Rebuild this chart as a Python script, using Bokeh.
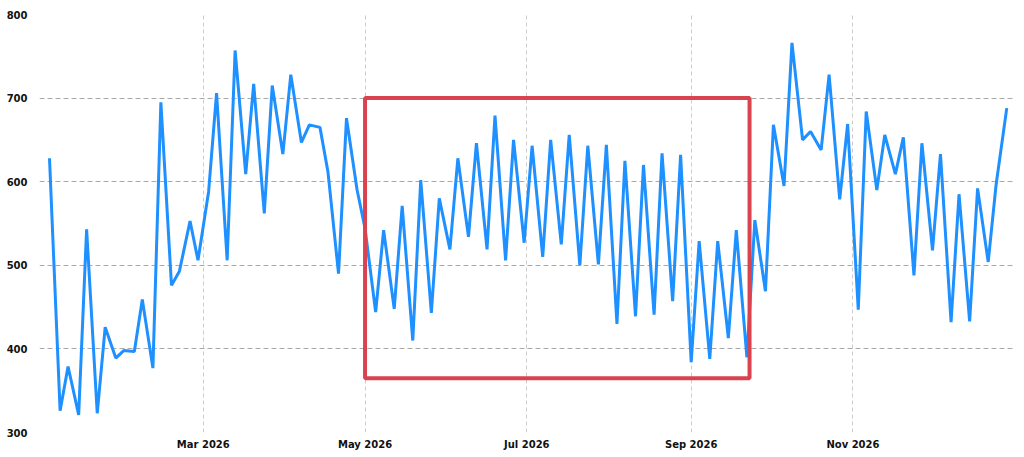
from datetime import datetime
import pandas as pd
from bokeh.plotting import figure
from bokeh.models import BoxAnnotation, FixedTicker, DatetimeTickFormatter, Range1d, ColumnDataSource
from bokeh.embed import file_html
from bokeh.resources import INLINE

# ---- data ----
dates = sorted(
    list(pd.date_range("2026-01-02", "2026-12-29", freq="W-FRI"))
    + list(pd.date_range("2026-01-02", "2026-12-29", freq="W-TUE"))
)
values = [
    628, 326, 379, 321, 543, 323, 426, 389, 398, 397,
    459, 377, 695, 476, 493, 553, 506, 588, 706, 506,
    757, 609, 717, 562, 715, 633, 728, 647, 668, 665,
    612, 490, 676, 590, 544, 444, 542, 448, 571, 410,
    602, 443, 580, 519, 628, 534, 646, 519, 679, 506,
    650, 527, 643, 510, 650, 525, 656, 500, 643, 501,
    644, 430, 625, 439, 620, 441, 634, 457, 632, 384,
    529, 388, 529, 413, 542, 390, 554, 469, 668, 595,
    766, 650, 660, 638, 728, 579, 669, 447, 684, 590,
    656, 609, 653, 488, 646, 518, 633, 432, 585, 433,
    592, 504, 597, 688,
]
tick_dates = ["2026-03-01", "2026-05-01", "2026-07-01", "2026-09-01", "2026-11-01"]
y_ticks = [300, 400, 500, 600, 700, 800]
highlight_start = "2026-05-01"
highlight_end = "2026-09-23"
highlight_low = 365
highlight_high = 700

def ms(d):
    return pd.Timestamp(d).value / 1e6

src = ColumnDataSource(dict(x=dates, y=values))

p = figure(
    width=1018, height=454, x_axis_type="datetime",
    output_backend="svg", toolbar_location=None,
    x_range=Range1d(ms("2025-12-29 05:30"), ms("2026-12-31 13:00")),
    y_range=Range1d(300, 800),
    min_border_left=39, min_border_right=5, min_border_top=14, min_border_bottom=22,
)
p.outline_line_color = None
p.background_fill_color = "white"

p.line("x", "y", source=src, line_color="#1e90ff", line_width=3)

box = BoxAnnotation(
    left=ms(highlight_start), right=ms(highlight_end),
    bottom=highlight_low, top=highlight_high,
    fill_alpha=0, fill_color=None, line_color="#d9434f", line_alpha=1.0, line_width=4,
    level="overlay",
)
p.add_layout(box)

p.xaxis.ticker = FixedTicker(ticks=[ms(d) for d in tick_dates])
p.xaxis.formatter = DatetimeTickFormatter(months="%b %Y", days="%b %Y", hours="%b %Y")
p.yaxis.ticker = FixedTicker(ticks=y_ticks)

for ax in (p.xaxis, p.yaxis):
    ax.axis_line_color = None
    ax.major_tick_line_color = None
    ax.minor_tick_line_color = None
    ax.major_label_text_font = "DejaVu Sans"
    ax.major_label_text_font_style = "bold"
    ax.major_label_text_font_size = "10px"
    ax.major_label_text_color = "#111111"
p.yaxis.major_label_standoff = 6
p.xaxis.major_label_standoff = 0

p.ygrid.grid_line_color = "#aaaaaa"
p.ygrid.grid_line_dash = "5 3"
p.ygrid.grid_line_width = 1
p.xgrid.grid_line_color = "#cccccc"
p.xgrid.grid_line_dash = "4 3"
p.xgrid.grid_line_width = 1

open("out.html", "w").write(file_html(p, INLINE))
